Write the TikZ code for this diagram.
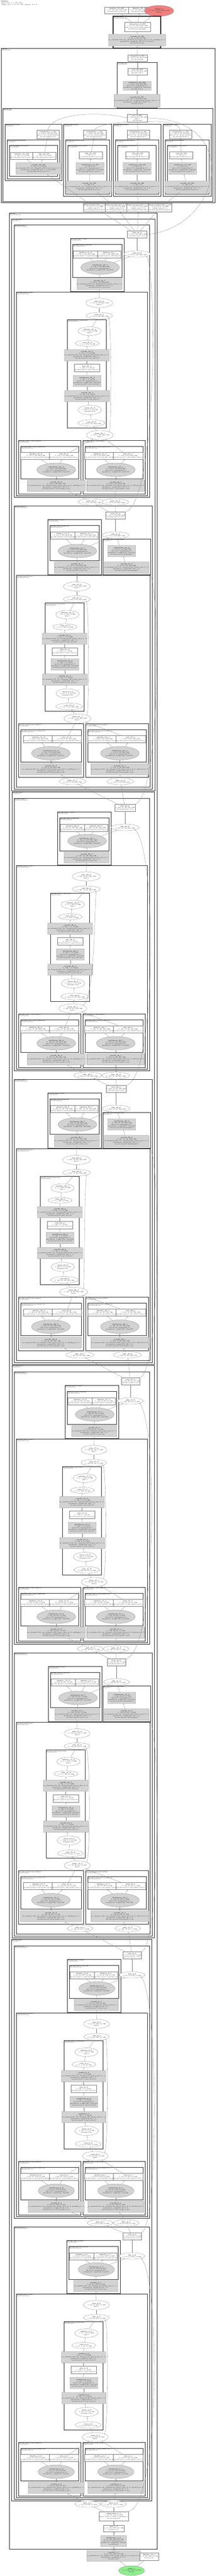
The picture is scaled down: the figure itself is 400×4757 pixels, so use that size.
\documentclass[tikz,border=0pt]{standalone}
\usetikzlibrary{shapes.geometric,arrows.meta}
\definecolor{opgray}{HTML}{D3D3D3}
\definecolor{outred}{HTML}{F08080}
\definecolor{ingreen}{HTML}{90EE90}
\newcounter{clno}
\tikzset{
  every node/.style={font=\fontsize{2.4}{3}\selectfont, align=center, inner sep=0.5pt},
  sz/.style 2 args={minimum width=#1pt, minimum height=#2pt},
  modbox/.style={rectangle, draw=gray, line width=0.3pt, fill=white},
  opbox/.style={rectangle, draw=gray, line width=0.3pt, fill=opgray, rounded corners=0.8pt},
  fnoval/.style={ellipse, draw=gray, line width=0.3pt, fill=white, inner sep=0pt},
  bnoval/.style={fnoval, fill=opgray},
  edge/.style={draw=gray, line width=0.3pt, -{Stealth[length=1.6pt,width=1.3pt]}},
  frame/.style={draw=black!80, line width=0.5pt},
  framelbl/.style={anchor=north west, align=left, inner sep=0.3pt, font=\fontsize{2}{2.3}\selectfont},
}
% cluster box with its two-line label
\newcommand\clus[7][]{%
  \stepcounter{clno}%
  \draw[frame,#1] (#2,#3) rectangle (#4,#5);
  \node[framelbl] (lbl\theclno) at (#2+0.6,#3+0.6) {\textbf{#6}\\#7};}
% x positions of one bottleneck: relu/add, conv3, attn, sum/mul, stack, split l, split r
\newcommand\setbx[7]{\def\bxR{#1}\def\bxC{#2}\def\bxA{#3}\def\bxM{#4}\def\bxS{#5}\def\bxL{#6}\def\bxP{#7}}
% one bottleneck: #1 top, #2 name, #3 downsample, #4 module, #5 number, #6 shape, #7 size, #8 channels
\newcommand\encblock[8]{%
\begin{scope}[shift={(0,#1)}]
\ifnum#3=1\relax
  \def\kdy{4.5}\def\kfR{281}\def\kcR{277}\def\kcB{519}\def\kfB{523}\def\ksy{509}%
  \def\pLa{34}\def\pLb{154}\def\pRa{158}\def\pRb{274}%
  \def\xiL{71.5}\def\xrL{123}\def\xbL{94}\def\wcL{113}%
  \def\xiR{190.5}\def\xrR{241.5}\def\xbR{221.5}\def\wcR{96}%
\else
  \def\kdy{0}\def\kfR{276}\def\kcR{272}\def\kcB{500}\def\kfB{503}\def\ksy{512}%
  \def\pLa{34}\def\pLb{149}\def\pRa{153}\def\pRb{268}%
  \def\xiL{66}\def\xrL{118}\def\xbL{104}\def\wcL{83}%
  \def\xiR{185}\def\xrR{236.5}\def\xbR{214}\def\wcR{100}%
\fi
\clus{26}{0}{\kfR}{\kfB}{encoder.#4}{(ResNestBottleneck)}
% conv3 and bn3
\clus{\bxC}{25}{\bxC+99}{123+\kdy}{encoder.#4.conv3}{(ConvNormAct)}
\clus[line width=0.4pt]{\bxC+4}{36}{\bxC+95}{97+\kdy}{encoder.#4.conv3.bn}{(BatchNormAct2d)}
\node[modbox, sz={31}{13}] (#2relu) at (\bxR,18) {\textbf{relu\_#5\_9}\\#6 #7\\encoder.#4.act3};
\node[fnoval, sz={43}{12}] (#2add) at (\bxR,54) {\textbf{add\_#5\_8}\\#6 #7};
\node[modbox, sz={40}{13}] (#2ida) at (\bxC+28,54.5) {\textbf{identity\_#5\_8}\\#6 #7\\encoder.#4.conv3.bn.drop};
\node[modbox, sz={40}{13}] (#2idb) at (\bxC+71.5,54.5) {\textbf{identity\_#5\_7}\\#6 #7\\encoder.#4.conv3.bn.act};
\node[bnoval, sz={60}{25}] (#2bn) at (\bxC+55,79+\kdy) {\textbf{batchnorm\_#5\_7}\\#6 #7\\eps=1e-05, momentum=0.1\\parameters: weight(#8), bias(#8)};
\node[opbox, sz={82}{21}] (#2cv) at (\bxC+54,109.5+\kdy) {\textbf{conv2d\_#5\_7}\\#6 #7\\in\_channels=#8, out\_channels=#8, kernel\_size=(1, 1)\\parameters: weight(#8, #8, 1, 1)\\encoder.#4.conv3.conv};
\ifnum#3=1\relax
  \clus{190}{61}{278}{123+\kdy}{encoder.#4.downsample}{(Sequential)}
  \node[opbox, sz={44}{21}] (#2dsbn) at (225,83.5) {\textbf{batchnorm\_#5\_6}\\#6 #7\\eps=1e-05, momentum=0.1\\parameters: weight(#8), bias(#8)\\encoder.#4.downsample.1};
  \node[opbox, sz={80}{21}] (#2dscv) at (234,114) {\textbf{conv2d\_#5\_6}\\#6 #7\\in\_channels=#8, out\_channels=#8, kernel\_size=(1, 1)\\parameters: weight(#8, #8, 1, 1)\\encoder.#4.downsample.0};
  \draw[edge] (#2dscv) -- (#2dsbn);
  \draw[edge] (#2dsbn) -- (#2add);
\fi
% split attention conv
\clus{30}{124+\kdy}{\kcR}{\kcB}{encoder.#4.conv1}{(SplitAttnConv2d)}
\node[fnoval, sz={42}{17}] (#2cat) at (\bxM,144.5+\kdy) {\textbf{sum\_#5\_6}\\#6 #7\\dim=1};
\node[fnoval, sz={46}{12}] (#2mul) at (\bxM,168+\kdy) {\textbf{mul\_#5\_5}\\#6 #7};
\clus{\bxA}{175+\kdy}{\bxA+72}{375+\kdy}{encoder.#4.conv1.attn}{(SplitAttention)}
\node[fnoval, sz={43}{16}] (#2sm) at (\bxA+41.5,196.5+\kdy) {\textbf{softmax\_#5\_5}\\(1, 2, 1, #8) 4.0 KB\\dim=1};
\node[fnoval, sz={44}{11}] (#2view) at (\bxA+37,219+\kdy) {\textbf{view\_#5\_4}\\(1, 2, 1, #8) 4.0 KB};
\node[opbox, sz={65}{21}] (#2fc2) at (\bxA+36.5,241+\kdy) {\textbf{conv2d\_#5\_4}\\(1, #8, 1, 1) 2.0 KB\\in\_channels=128, out\_channels=#8, kernel\_size=(1, 1)\\parameters: weight(#8, 128, 1, 1)\\encoder.#4.conv1.attn.fc2};
\node[modbox, sz={41}{14}] (#2arelu) at (\bxA+36.5,264.5+\kdy) {\textbf{relu\_#5\_4}\\(1, 128, 1, 1) 512 B\\encoder.#4.conv1.attn.act1};
\node[opbox, sz={41}{21}] (#2abn) at (\bxA+37,288.5+\kdy) {\textbf{batchnorm\_#5\_3}\\(1, 128, 1, 1) 512 B\\eps=1e-05, momentum=0.1\\parameters: weight(128), bias(128)\\encoder.#4.conv1.attn.bn1};
\node[opbox, sz={64}{21}] (#2fc1) at (\bxA+37,316.5+\kdy) {\textbf{conv2d\_#5\_3}\\(1, 128, 1, 1) 512 B\\in\_channels=#8, out\_channels=128, kernel\_size=(1, 1)\\parameters: weight(128, #8, 1, 1)\\encoder.#4.conv1.attn.fc1};
\node[fnoval, sz={43}{17}] (#2mean) at (\bxA+42,342+\kdy) {\textbf{mean\_#5\_2}\\(1, #8, 1, 1) 2.0 KB\\keepdim=True};
\node[fnoval, sz={43}{12}] (#2sum) at (\bxA+45,366+\kdy) {\textbf{sum\_#5\_2}\\#6 #7};
\node[fnoval, sz={46}{17}] (#2stack) at (\bxS,388.5+\kdy) {\textbf{stack\_#5\_1}\\#6 #7\\dim=1};
% the two radix paths
\clus{\pLa}{398+\kdy}{\pLb}{497+\kdy}{encoder.#4.conv1.paths.0}{(ConvNormAct)}
\clus[line width=0.4pt]{\pLa+4}{409+\kdy}{\pLb-4}{469+\kdy}{encoder.#4.conv1.paths.0.bn}{(BatchNormAct2d)}
\clus{\pRa}{398+\kdy}{\pRb}{497+\kdy}{encoder.#4.conv1.paths.1}{(ConvNormAct)}
\clus[line width=0.4pt]{\pRa+4}{409+\kdy}{\pRb-4}{469+\kdy}{encoder.#4.conv1.paths.1.bn}{(BatchNormAct2d)}
\node[modbox, sz={48}{13}] (#2lid) at (\xiL,426.5+\kdy) {\textbf{identity\_#5\_2}\\#6 #7\\encoder.#4.conv1.paths.0.bn.drop};
\node[modbox, sz={48}{13}] (#2lrelu) at (\xrL,426.5+\kdy) {\textbf{relu\_#5\_2}\\#6 #7\\encoder.#4.conv1.paths.0.bn.act};
\node[bnoval, sz={60}{25}] (#2lbn) at (\xbL,452.5+\kdy) {\textbf{batchnorm\_#5\_2}\\#6 #7\\eps=1e-05, momentum=0.1\\parameters: weight(#8), bias(#8)};
\node[opbox, sz={\wcL}{21}] (#2lcv) at (\xbL,482+\kdy) {\textbf{conv2d\_#5\_2}\\#6 #7\\in\_channels=#8, out\_channels=#8, kernel\_size=(3, 3), padding=(1, 1)\\parameters: weight(#8, #8, 3, 3)\\encoder.#4.conv1.paths.0.conv};
\node[modbox, sz={48}{13}] (#2rid) at (\xiR,426.5+\kdy) {\textbf{identity\_#5\_1}\\#6 #7\\encoder.#4.conv1.paths.1.bn.drop};
\node[modbox, sz={48}{13}] (#2rrelu) at (\xrR,426.5+\kdy) {\textbf{relu\_#5\_1}\\#6 #7\\encoder.#4.conv1.paths.1.bn.act};
\node[bnoval, sz={60}{25}] (#2rbn) at (\xbR,452.5+\kdy) {\textbf{batchnorm\_#5\_1}\\#6 #7\\eps=1e-05, momentum=0.1\\parameters: weight(#8), bias(#8)};
\node[opbox, sz={\wcR}{21}] (#2rcv) at (\xbR,482+\kdy) {\textbf{conv2d\_#5\_1}\\#6 #7\\in\_channels=#8, out\_channels=#8, kernel\_size=(3, 3), dilation=(2, 2)\\parameters: weight(#8, #8, 3, 3)\\encoder.#4.conv1.paths.1.conv};
\node[fnoval, sz={42}{12}] (#2spl) at (\bxL,\ksy) {\textbf{split\_#5\_1}\\#6 #7};
\node[fnoval, sz={44}{12}] (#2spr) at (\bxP,\ksy) {\textbf{split\_#5\_2}\\#6 #7};
% edges inside the block
\draw[edge] (#2spl) -- (#2lcv);
\draw[edge] (#2spr) -- (#2rcv);
\draw[edge] (#2lcv) -- (#2lbn);
\draw[edge] (#2rcv) -- (#2rbn);
\draw[edge] (#2lbn) -- (#2lid);
\draw[edge] (#2lbn) -- (#2lrelu);
\draw[edge] (#2rbn) -- (#2rid);
\draw[edge] (#2rbn) -- (#2rrelu);
\draw[edge] (#2lrelu) -- (#2stack);
\draw[edge] (#2rrelu) -- (#2stack);
\draw[edge] (#2stack) -- (#2sum);
\draw[edge] (#2stack.north east) .. controls (\bxA+82,378+\kdy) and (\bxA+82,190+\kdy) .. (#2mul.south east);
\draw[edge] (#2sum) -- (#2mean);
\draw[edge] (#2mean) -- (#2fc1);
\draw[edge] (#2fc1) -- (#2abn);
\draw[edge] (#2abn) -- (#2arelu);
\draw[edge] (#2arelu) -- (#2fc2);
\draw[edge] (#2fc2) -- (#2view);
\draw[edge] (#2view) -- (#2sm);
\draw[edge] (#2sm) -- (#2mul);
\draw[edge] (#2mul) -- (#2cat);
\draw[edge] (#2cat) -- (#2cv);
\draw[edge] (#2cv) -- (#2bn);
\draw[edge] (#2bn) -- (#2ida);
\draw[edge] (#2bn) -- (#2idb);
\draw[edge] (#2bn) -- (#2add);
\draw[edge] (#2add) -- (#2relu);
\end{scope}}
% one pyramid pooling branch: #1 index, #2 x1, #3 x2, #4 interp x, #5 relu x, #6 bn x, #7 conv x, #8 conv width, #9 bins
\newcommand\pspblock[9]{%
\clus{#2}{229}{#3}{362}{decoder.psp.blocks.#1}{(PSPBlock)}
\clus{#2+4}{258}{#3-4}{358}{decoder.psp.blocks.#1.pool}{(Sequential)}
\clus{#2+8}{268}{#3-9}{354}{decoder.psp.blocks.#1.pool.1}{(Conv2dReLU)}
\node[modbox, sz={36}{16}] (ps#1in) at (#4,248) {\textbf{interpolate\_#1\_34#1}\\(1, 128, 8, 24) 96.0 KB\\size=(8, 24), mode=bilinear\\decoder.psp.blocks.#1};
\node[modbox, sz={34}{13}] (ps#1re) at (#5,287) {\textbf{relu\_3#1\_33#1}\\(1, 128, #9, #9)\\decoder.psp.blocks.#1.pool.1.2};
\node[opbox, sz={44}{22}] (ps#1bn) at (#6,311) {\textbf{batchnorm\_3#1\_33#1}\\(1, 128, #9, #9)\\eps=1e-05, momentum=0.1\\parameters: weight(128), bias(128)\\decoder.psp.blocks.#1.pool.1.1};
\node[opbox, sz={#8}{22}] (ps#1cv) at (#7,345) {\textbf{conv2d\_4#1\_32#1}\\(1, 128, #9, #9)\\in\_channels=512, out\_channels=128, kernel\_size=(1, 1)\\parameters: weight(128, 512, 1, 1)\\decoder.psp.blocks.#1.pool.1.0};
\draw[edge] (ps#1cv) -- (ps#1bn);
\draw[edge] (ps#1bn) -- (ps#1re);
\draw[edge] (ps#1re) -- (ps#1in);
}
\begin{document}
\begin{tikzpicture}[x=1pt,y=-1pt]
\useasboundingbox (0,0) rectangle (400,4757);
\node[anchor=north west, align=left, inner sep=0pt] (title) at (2,2) {\textbf{PSPNet}\\input\_size: (1, 3, 256, 768)\\output\_size: (1, 21, 64, 192), params: 14.2 M};
% outputs and head
\node[modbox, sz={45}{12}] (hida) at (215.5,19) {\textbf{identity\_39\_358}\\(1, 21, 64, 192) 1008.0 KB\\decoder.head.activation};
\node[modbox, sz={43}{12}] (hidb) at (258.5,19) {\textbf{identity\_38\_357}\\(1, 21, 64, 192) 1008.0 KB\\decoder.head.dropout};
\node[fnoval, fill=outred, sz={44}{20}] (out) at (294,20) {\textbf{output\_1}\\(1, 21, 64, 192) 1008.0 KB\\(Tensor)};
\clus[line width=1.1pt]{209}{30}{297}{89}{decoder.head}{(SegmentationHead)}
\node[modbox, sz={42}{17}] (interp) at (254,49.5) {\textbf{interpolate\_5\_356}\\(1, 21, 64, 192) 1008.0 KB\\scale\_factor=8.0, mode=bilinear\\decoder.head.upsample};
\node[opbox, sz={81}{22}] (hcv) at (253.5,74) {\textbf{conv2d\_53\_355}\\(1, 21, 8, 24) 15.8 KB\\in\_channels=512, out\_channels=21, kernel\_size=(3, 3), padding=(1, 1)\\parameters: weight(21, 512, 3, 3), bias(21)\\decoder.head.conv};
% decoder
\clus{2}{89}{397}{374}{decoder}{(PSPDecoder)}
\node[modbox, sz={32}{12}] (feat) at (254,107) {\textbf{dropout\_1\_354}\\(1, 512, 8, 24) 384.0 KB\\decoder.dropout};
\clus[line width=1pt]{216}{115}{290}{199}{decoder.conv}{(Conv2dReLU)}
\node[modbox, sz={32}{12}] (crelu) at (254,132) {\textbf{relu\_36\_353}\\(1, 512, 8, 24) 384.0 KB\\decoder.conv.2};
\node[opbox, sz={43}{17}] (cbn) at (253.5,158.5) {\textbf{batchnorm\_36\_352}\\(1, 512, 8, 24) 384.0 KB\\eps=1e-05, momentum=0.1\\parameters: weight(512), bias(512)\\decoder.conv.1};
\node[opbox, sz={67}{24}] (ccv) at (253.5,186) {\textbf{conv2d\_52\_351}\\(1, 512, 8, 24) 384.0 KB\\in\_channels=1024, out\_channels=512, kernel\_size=(1, 1)\\parameters: weight(512, 1024, 1, 1)\\decoder.conv.0};
\clus[line width=1pt]{5}{200}{393}{372}{decoder.psp}{(PSPModule)}
\node[modbox, sz={33}{14}] (pcat) at (253.5,218) {\textbf{cat\_1\_350}\\(1, 1024, 8, 24) 768.0 KB\\dim=1\\decoder.psp};
% first branch has no batchnorm
\clus{9}{229}{114}{333}{decoder.psp.blocks.0}{(PSPBlock)}
\clus{13}{258}{110}{330}{decoder.psp.blocks.0.pool}{(Sequential)}
\clus{17}{268}{106}{325}{decoder.psp.blocks.0.pool.1}{(Conv2dReLU)}
\node[modbox, sz={35}{16}] (ps0in) at (88.5,248) {\textbf{interpolate\_1\_349}\\(1, 128, 8, 24) 96.0 KB\\size=(8, 24), mode=bilinear\\decoder.psp.blocks.0};
\node[modbox, sz={37}{13}] (ps0id) at (40.5,287.5) {\textbf{identity\_34\_338}\\(1, 128, 1, 1) 512 B\\decoder.psp.blocks.0.pool.1.1};
\node[modbox, sz={37}{13}] (ps0re) at (81.5,287.5) {\textbf{relu\_34\_337}\\(1, 128, 1, 1) 512 B\\decoder.psp.blocks.0.pool.1.2};
\node[opbox, sz={66}{22}] (ps0cv) at (71,311) {\textbf{conv2d\_48\_336}\\(1, 128, 1, 1) 512 B\\in\_channels=512, out\_channels=128, kernel\_size=(1, 1)\\parameters: weight(128, 512, 1, 1), bias(128)\\decoder.psp.blocks.0.pool.1.0};
\draw[edge] (ps0cv) -- (ps0id);
\draw[edge] (ps0cv) -- (ps0re);
\draw[edge] (ps0re) -- (ps0in);
\pspblock{1}{117}{206}{175}{167.5}{166.5}{165}{72}{2}
\pspblock{2}{209}{297}{255.5}{254}{253.5}{253.5}{65}{3}
\pspblock{3}{301}{390}{333.5}{335}{337.5}{346}{66}{6}
\node[modbox, sz={41}{16}] (avg0) at (175.5,383.5) {\textbf{adaptiveavgpool2d\_1\_335}\\(1, 512, 1, 1) 2.0 KB\\output\_size=(1, 1)\\decoder.psp.blocks.0.pool.0};
\node[modbox, sz={40}{16}] (avg1) at (216,383.5) {\textbf{adaptiveavgpool2d\_2\_334}\\(1, 512, 2, 2) 8.0 KB\\output\_size=(2, 2)\\decoder.psp.blocks.1.pool.0};
\node[modbox, sz={40}{16}] (avg2) at (256,383.5) {\textbf{adaptiveavgpool2d\_3\_333}\\(1, 512, 3, 3) 18.0 KB\\output\_size=(3, 3)\\decoder.psp.blocks.2.pool.0};
\node[modbox, sz={39}{16}] (avg3) at (295.5,383.5) {\textbf{adaptiveavgpool2d\_4\_332}\\(1, 512, 6, 6) 72.0 KB\\output\_size=(6, 6)\\decoder.psp.blocks.3.pool.0};
% encoder
\clus{17}{393}{290}{4707}{encoder}{(ResNestEncoder)}
\clus{21}{404}{286}{1460}{encoder.layer4}{(Sequential)}
\clus{22}{1462}{285}{2519}{encoder.layer3}{(Sequential)}
\clus{22}{2521}{285}{3578}{encoder.layer2}{(Sequential)}
\clus{21}{3581}{280}{4618}{encoder.layer1}{(Sequential)}
\setbx{253.5}{130}{124}{183.5}{184.5}{169}{213}
\encblock{415}{b1}{0}{layer4.1}{35}{(1, 512, 8, 24)}{384.0 KB}{512}
\setbx{213.5}{88}{83}{142}{143}{134}{222.5}
\encblock{934}{b2}{1}{layer4.0}{31}{(1, 512, 8, 24)}{384.0 KB}{512}
\setbx{231}{106}{93}{159.5}{134.5}{162}{214}
\encblock{1474}{b3}{0}{layer3.1}{26}{(1, 256, 16, 48)}{768.0 KB}{256}
\setbx{214.5}{88}{74}{141.5}{136}{147.5}{235.5}
\encblock{1993}{b4}{1}{layer3.0}{22}{(1, 256, 16, 48)}{768.0 KB}{256}
\setbx{241}{120}{115}{173.5}{174}{167}{214.5}
\encblock{2533}{b5}{0}{layer2.1}{17}{(1, 128, 32, 96)}{1.5 MB}{128}
\setbx{215}{89}{85}{142.5}{143}{148}{236}
\encblock{3052}{b6}{1}{layer2.0}{13}{(1, 128, 32, 96)}{1.5 MB}{128}
\setbx{244}{124}{118}{178.5}{176}{185}{233}
\encblock{3593}{b7}{0}{layer1.1}{8}{(1, 64, 64, 192)}{3.0 MB}{64}
\setbx{244}{123}{118}{178}{176}{162}{210}
\encblock{4112}{b8}{0}{layer1.0}{4}{(1, 64, 64, 192)}{3.0 MB}{64}
% stem
\node[modbox, sz={42}{17}] (mpool) at (210,4646.5) {\textbf{maxpool2d\_1\_3}\\(1, 64, 64, 192) 3.0 MB\\kernel\_size=3, stride=2, padding=1\\encoder.maxpool};
\node[modbox, sz={31}{12}] (erelu) at (210,4669) {\textbf{relu\_1\_2}\\(1, 64, 128, 384) 12.0 MB\\encoder.act1};
\node[opbox, sz={40}{21}] (ebn) at (210,4692.5) {\textbf{batchnorm\_1\_2}\\(1, 64, 128, 384) 12.0 MB\\eps=1e-05, momentum=0.1\\parameters: weight(64), bias(64)\\encoder.bn1};
\node[opbox, sz={94}{20}] (ecv) at (210,4720) {\textbf{conv2d\_1\_1}\\(1, 64, 128, 384) 12.0 MB\\in\_channels=3, out\_channels=64, kernel\_size=(7, 7), stride=(2, 2)\\parameters: weight(64, 3, 7, 7)\\encoder.conv1};
\node[modbox, sz={33}{14}] (eid) at (275.5,4721) {\textbf{identity\_40\_1}\\(1, 3, 256, 768) 2.3 MB\\decoder.aux};
\node[fnoval, fill=ingreen, sz={46}{18}] (input) at (243,4747) {\textbf{input\_1}\\(1, 3, 256, 768) 2.3 MB\\(Tensor)};
% stem edges
\draw[edge] (input) -- (ecv);
\draw[edge] (input) -- (eid);
\draw[edge] (ecv) -- (ebn);
\draw[edge] (ebn) -- (erelu);
\draw[edge] (erelu) -- (mpool);
% between the bottlenecks
\draw[edge] (mpool) -- (b8spl);
\draw[edge] (mpool) -- (b8spr);
\draw[edge] (mpool.north east) .. controls (296,4630) and (296,4210) .. (b8add.south east);
\draw[edge] (b8relu) -- (b7spl);
\draw[edge] (b8relu) -- (b7spr);
\draw[edge] (b8relu.north east) .. controls (293,4110) and (293,3690) .. (b7add.south east);
\draw[edge] (b7relu) -- (b6spl);
\draw[edge] (b7relu) -- (b6spr);
\draw[edge] (b7relu.north east) .. controls (297,3590) and (297,3200) .. (b6dscv.south east);
\draw[edge] (b6relu) -- (b5spl);
\draw[edge] (b6relu) -- (b5spr);
\draw[edge] (b6relu.north east) .. controls (291,3050) and (291,2630) .. (b5add.south east);
\draw[edge] (b5relu) -- (b4spl);
\draw[edge] (b5relu) -- (b4spr);
\draw[edge] (b5relu.north east) .. controls (297,2530) and (297,2140) .. (b4dscv.south east);
\draw[edge] (b4relu) -- (b3spl);
\draw[edge] (b4relu) -- (b3spr);
\draw[edge] (b4relu.north east) .. controls (290,1990) and (290,1570) .. (b3add.south east);
\draw[edge] (b3relu) -- (b2spl);
\draw[edge] (b3relu) -- (b2spr);
\draw[edge] (b3relu.north east) .. controls (297,1470) and (297,1080) .. (b2dscv.south east);
\draw[edge] (b2relu) -- (b1spl);
\draw[edge] (b2relu) -- (b1spr);
\draw[edge] (b2relu.north east) .. controls (290,930) and (290,510) .. (b1add.south east);
% pyramid pooling
\draw[edge] (b1relu) -- (avg0);
\draw[edge] (b1relu) -- (avg1);
\draw[edge] (b1relu) -- (avg2);
\draw[edge] (b1relu) -- (avg3);
\draw[edge] (b1relu.east) .. controls (410,420) and (450,220) .. (pcat.east);
\draw[edge] (avg0) -- (ps0cv);
\draw[edge] (avg1) -- (ps1cv);
\draw[edge] (avg2) -- (ps2cv);
\draw[edge] (avg3) -- (ps3cv);
\draw[edge] (ps0in.north) .. controls (95,210) and (180,204) .. (pcat.west);
\draw[edge] (ps1in.north) .. controls (180,230) and (220,226) .. (pcat.south west);
\draw[edge] (ps2in) -- (pcat);
\draw[edge] (ps3in.north) .. controls (330,226) and (292,222) .. (pcat.south east);
% decoder and head
\draw[edge] (pcat) -- (ccv);
\draw[edge] (ccv) -- (cbn);
\draw[edge] (cbn) -- (crelu);
\draw[edge] (crelu) -- (feat);
\draw[edge] (feat) -- (hcv);
\draw[edge] (hcv) -- (interp);
\draw[edge] (interp) -- (hida);
\draw[edge] (interp) -- (hidb);
\draw[edge] (interp) -- (out);
\end{tikzpicture}
\end{document}
